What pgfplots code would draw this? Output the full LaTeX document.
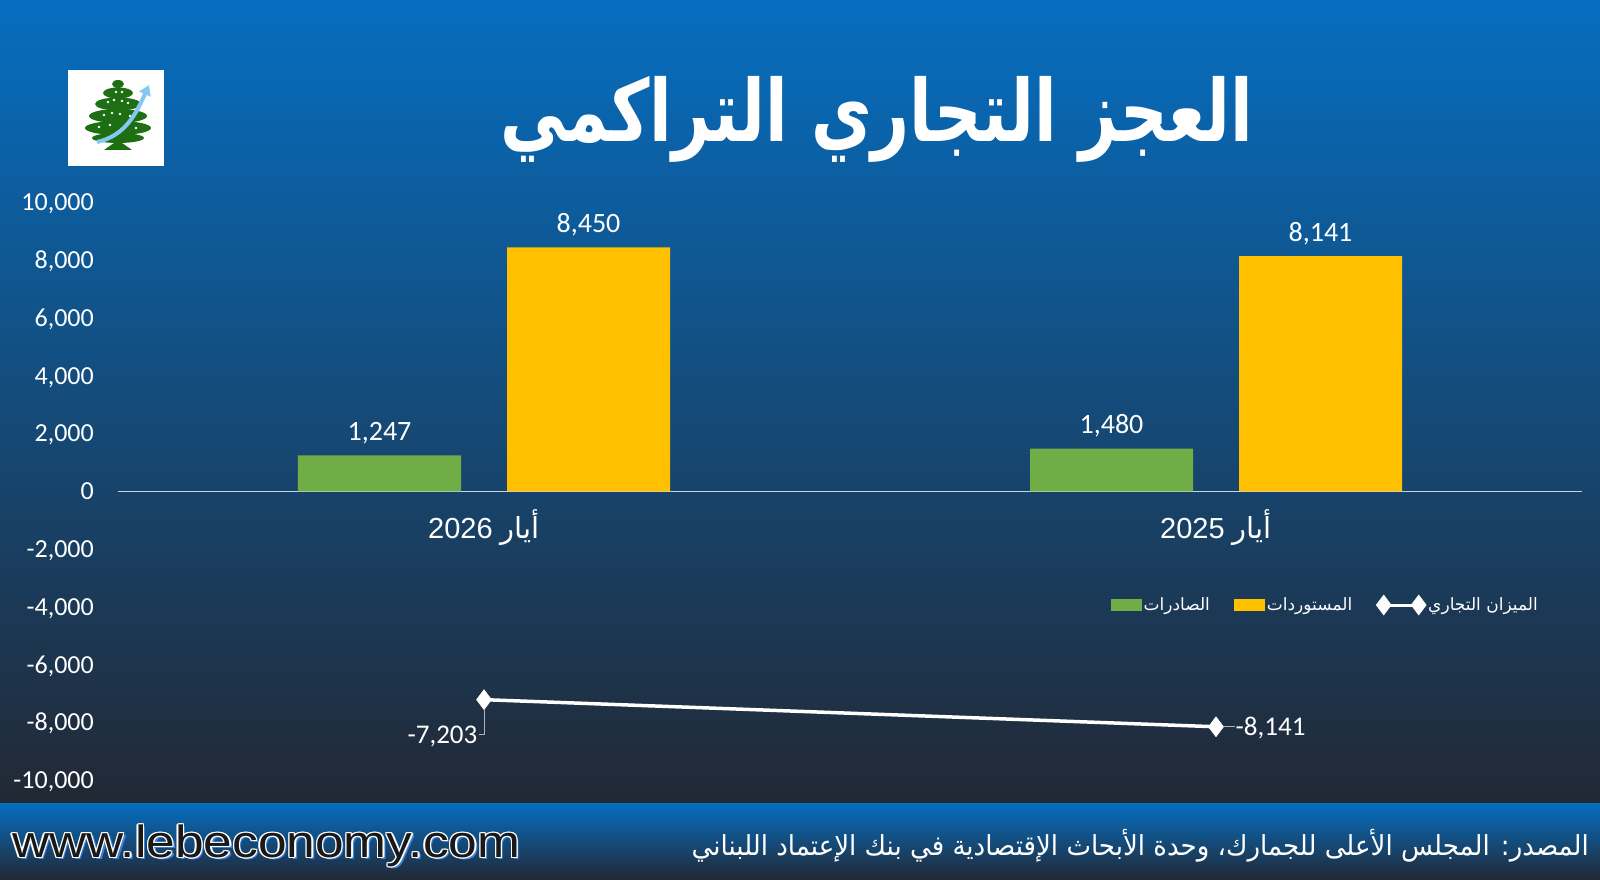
\documentclass[border=0pt]{standalone}
\usepackage{pgfplots}
\pgfplotsset{compat=1.18}
\usepackage{fontspec}
\usetikzlibrary{arrows.meta}
\setmainfont{Carlito}
\newfontfamily\arabicfont[Script=Arabic]{DejaVu Sans}
\newfontfamily\arialfont{Liberation Sans}
\TeXXeTstate=1
\definecolor{cgreen}{RGB}{112,173,71}
\definecolor{cyellow}{RGB}{255,192,0}
\definecolor{bgtop}{RGB}{6,110,192}
\definecolor{bgmid}{RGB}{30,82,130}
\definecolor{bgbot}{RGB}{34,40,52}
\definecolor{axisgray}{RGB}{205,210,218}
\definecolor{treegreen}{RGB}{30,110,20}
\definecolor{arrowblue}{RGB}{135,200,240}
\definecolor{shadowblue}{RGB}{60,130,220}
\newcommand\web{\resizebox*{508pt}{42pt}{\arialfont www.lebeconomy.com}}
\pgfplotsset{
  barlegend/.style={legend image code/.code={\fill[##1] (0pt,-6pt) rectangle (31pt,6pt);}},
  linelegend/.style={legend image code/.code={\draw[##1, line width=3pt, mark size=10pt] plot coordinates {(7pt,0pt) (42pt,0pt)};}},
  barlabels/.style={nodes near coords,
    every node near coord/.append style={font=\fontsize{28}{32}\selectfont, text=white, anchor=base, inner sep=0pt, yshift=15pt, xshift=#1}},
}
\begin{document}
\begin{tikzpicture}[x=1pt,y=1pt]
\useasboundingbox (0,0) rectangle (1600,880);
% background
\shade[top color=bgtop, middle color=bgmid, bottom color=bgbot] (0,76) rectangle (1600,880);
\shade[top color=bgtop, bottom color=bgbot] (0,0) rectangle (1600,76);
% title
\node[anchor=south west, inner sep=0pt, text=white] at (500,717)
  {\resizebox*{753pt}{86pt}{\arabicfont\bfseries\beginR العجز التجاري التراكمي\endR}};
% logo
\fill[white] (68,714) rectangle (164,810);
\fill[treegreen] (118,796) ellipse (6 and 4);
\fill[treegreen] (118,787) ellipse (15 and 5.5);
\fill[treegreen] (118,776) ellipse (23 and 6.5);
\fill[treegreen] (118,764) ellipse (29 and 7);
\fill[treegreen] (118,752) ellipse (33 and 7);
\fill[treegreen] (118,742) ellipse (26 and 5);
\fill[treegreen] (114,734) rectangle (122,745);
\fill[treegreen] (104,730) -- (132,730) -- (122,737) -- (114,737) -- cycle;
\foreach \p in {(108,778),(114,780),(122,779),(128,777),(104,765),(112,767),(120,766),(130,764),(99,753),(110,755),(125,754),(136,752),(116,788),(122,788)}
  \fill[white] \p circle (1.3);
\draw[arrowblue, line width=4pt, -{Triangle[length=10pt,width=12pt]}] (97,738) .. controls (125,744) and (136,766) .. (149,795);
% footer texts
\node[anchor=south west, inner sep=0pt, text=shadowblue] at (14.5,10.5) {\web};
\foreach \dx/\dy in {-1.3/0,1.3/0,0/-1.3,0/1.3,-1/-1,1/1,-1/1,1/-1}
  \node[anchor=south west, inner sep=0pt, text=white] at ({12+\dx},{13+\dy}) {\web};
\node[anchor=south west, inner sep=0pt, text=black!90] at (12,13) {\web};
\node[anchor=south east, inner sep=0pt, text=white] at (1589,18)
  {\resizebox*{897pt}{33pt}{\arabicfont\beginR المصدر: المجلس الأعلى للجمارك، وحدة الأبحاث الإقتصادية في بنك الإعتماد اللبناني\endR}};
% chart
\begin{axis}[
  at={(118pt,99.5pt)}, anchor=south west,
  scale only axis, width=1464pt, height=578pt,
  xmin=-0.5, xmax=1.5, ymin=-10000, ymax=10000,
  axis x line*=middle, axis y line*=left,
  y axis line style={draw=none},
  x axis line style={draw=axisgray, line width=1.5pt},
  scaled y ticks=false,
  xtick={0,1},
  xticklabels={{\arialfont 2026 \arabicfont\beginR أيار\endR},{\arialfont 2025 \arabicfont\beginR أيار\endR}},
  ytick={-10000,-8000,-6000,-4000,-2000,0,2000,4000,6000,8000,10000},
  yticklabels={{-10,000},{-8,000},{-6,000},{-4,000},{-2,000},0,{2,000},{4,000},{6,000},{8,000},{10,000}},
  major tick length=0pt,
  yticklabel style={font=\fontsize{26}{30}\selectfont, text=white, anchor=base east, inner sep=0pt, xshift=-24pt, yshift=-8.3pt},
  xticklabel style={font=\fontsize{29}{34}\selectfont, text=white, anchor=base, inner sep=0pt, yshift=-47pt},
  clip=false,
  /pgf/number format/assume math mode=true,
  /pgf/number format/1000 sep={,},
  legend columns=3,
  legend cell align=left,
  legend style={at={(axis description cs:0.9713,0.3036)}, anchor=east, draw=none, fill=none,
    text=white, font=\arabicfont\fontsize{17}{20}\selectfont, inner sep=0pt,
    nodes={inner sep=2pt}, /tikz/every even column/.append style={column sep=22pt}},
]
\addplot[ybar, bar width=163pt, bar shift=-104.5pt, fill=cgreen, draw=none, barlegend, barlabels=-104.5pt]
  coordinates {(0,1247) (1,1480)};
\addlegendentry{\beginR الصادرات\endR}
\addplot[ybar, bar width=163pt, bar shift=104.5pt, fill=cyellow, draw=none, barlegend, barlabels=104.5pt]
  coordinates {(0,8450) (1,8141)};
\addlegendentry{\beginR المستوردات\endR}
\addplot[white, line width=3.5pt, mark=diamond*, mark size=10pt,
  mark options={fill=white, draw=white, line width=0.5pt}, linelegend]
  coordinates {(0,-7203) (1,-8141)};
\addlegendentry{\beginR الميزان التجاري\endR}
\draw[gray!60!white, line width=1pt] (axis cs:0,-7203) ++(0pt,-10pt) -- ++(0pt,-25.3pt) -- ++(-5pt,0pt);
\node[anchor=base east, text=white, font=\fontsize{27}{30}\selectfont, inner sep=0pt, xshift=-6.5pt, yshift=-43.8pt] at (axis cs:0,-7203) {-7,203};
\draw[gray!60!white, line width=1pt] (axis cs:1,-8141) ++(8pt,0pt) -- ++(11pt,0pt);
\node[anchor=base west, text=white, font=\fontsize{27}{30}\selectfont, inner sep=0pt, xshift=19.5pt, yshift=-9.2pt] at (axis cs:1,-8141) {-8,141};
\end{axis}
\end{tikzpicture}
\end{document}
